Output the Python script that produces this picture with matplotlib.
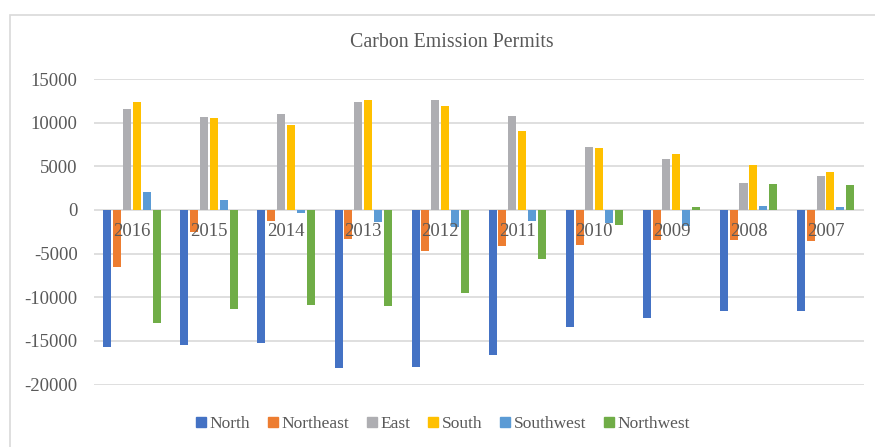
import matplotlib
matplotlib.use("Agg")
import matplotlib.pyplot as plt
import matplotlib.transforms as mtransforms
from matplotlib.patches import Rectangle
from matplotlib.lines import Line2D
import numpy as np

years = ["2016", "2015", "2014", "2013", "2012", "2011", "2010", "2009", "2008", "2007"]
north = [-15700, -15500, -15230, -18090, -17940, -16640, -13400, -12400, -11600, -11530]
northeast = [-6560, -2500, -1260, -3360, -4690, -4120, -4050, -3440, -3440, -3510]
east = [11560, 10650, 11000, 12370, 12600, 10760, 7180, 5800, 3050, 3930]
south = [12330, 10570, 9700, 12560, 11900, 9010, 7150, 6410, 5150, 4350]
southwest = [2060, 1100, -300, -1410, -1980, -1300, -1450, -1830, 460, 340]
northwest = [-12900, -11400, -10840, -11000, -9470, -5570, -1680, 340, 2980, 2820]

series = [
    ("North", north, "#4472C4"),
    ("Northeast", northeast, "#ED7D31"),
    ("East", east, "#AEAEB2"),
    ("South", south, "#FFC000"),
    ("Southwest", southwest, "#5B9BD5"),
    ("Northwest", northwest, "#70AD47"),
]
yticks = [-20000, -15000, -10000, -5000, 0, 5000, 10000, 15000]

plt.rcParams['font.family'] = ['Liberation Serif', 'DejaVu Serif']
txtcol = "#595959"

W, H = 875, 447
fig = plt.figure(figsize=(W / 100, H / 100), dpi=100)
ax = fig.add_axes([93.5 / W, 1 - 384.5 / H, (864 - 93.5) / W, (384.5 - 79) / H])

x = np.arange(len(years))
pitch = 0.128
bw = 0.104
for k, (name, vals, col) in enumerate(series):
    ax.bar(x + (k - 2.5) * pitch, vals, width=bw, color=col, label=name, zorder=2)

ax.set_xlim(-0.5, len(years) - 0.5)
ax.set_ylim(-20000, 15000)
ax.set_yticks(yticks)
ax.set_yticklabels([str(v) for v in yticks])
ax.tick_params(axis='y', length=0, pad=11.5, labelsize=13.5, labelcolor=txtcol)
ax.set_xticks([])
ax.grid(axis='y', color="#D9D9D9", linewidth=1.2, zorder=0)
ax.set_axisbelow(True)
for s in ax.spines.values():
    s.set_visible(False)

off = mtransforms.ScaledTranslation(0, -21.7 / 100, fig.dpi_scale_trans)
for i, yr in enumerate(years):
    ax.text(i, 0, yr, transform=ax.transData + off, ha='center', va='center',
            fontsize=13.5, color=txtcol, zorder=5)

fig.text(452 / W, 1 - 42.5 / H, "Carbon Emission Permits", ha='center', va='center',
         fontsize=14.3, color=txtcol)

fig.patches.append(Rectangle((10 / W, -0.1), 1.2, 1 - 15 / H + 0.1, transform=fig.transFigure,
                             fill=False, edgecolor="#D9D9D9", linewidth=1.2))

handles = [Line2D([], [], linestyle='none', marker='s', markersize=6.5,
                  markerfacecolor=col, markeredgecolor=col) for _, _, col in series]
labels = [name for name, _, _ in series]
leg = fig.legend(handles, labels, loc='center', bbox_to_anchor=(443 / W, 1 - 424 / H), ncol=6,
                 frameon=False, fontsize=12.5, handlelength=0.6, handletextpad=0.2,
                 columnspacing=1.0, labelcolor=txtcol)

fig.savefig("out.png", dpi=100)
